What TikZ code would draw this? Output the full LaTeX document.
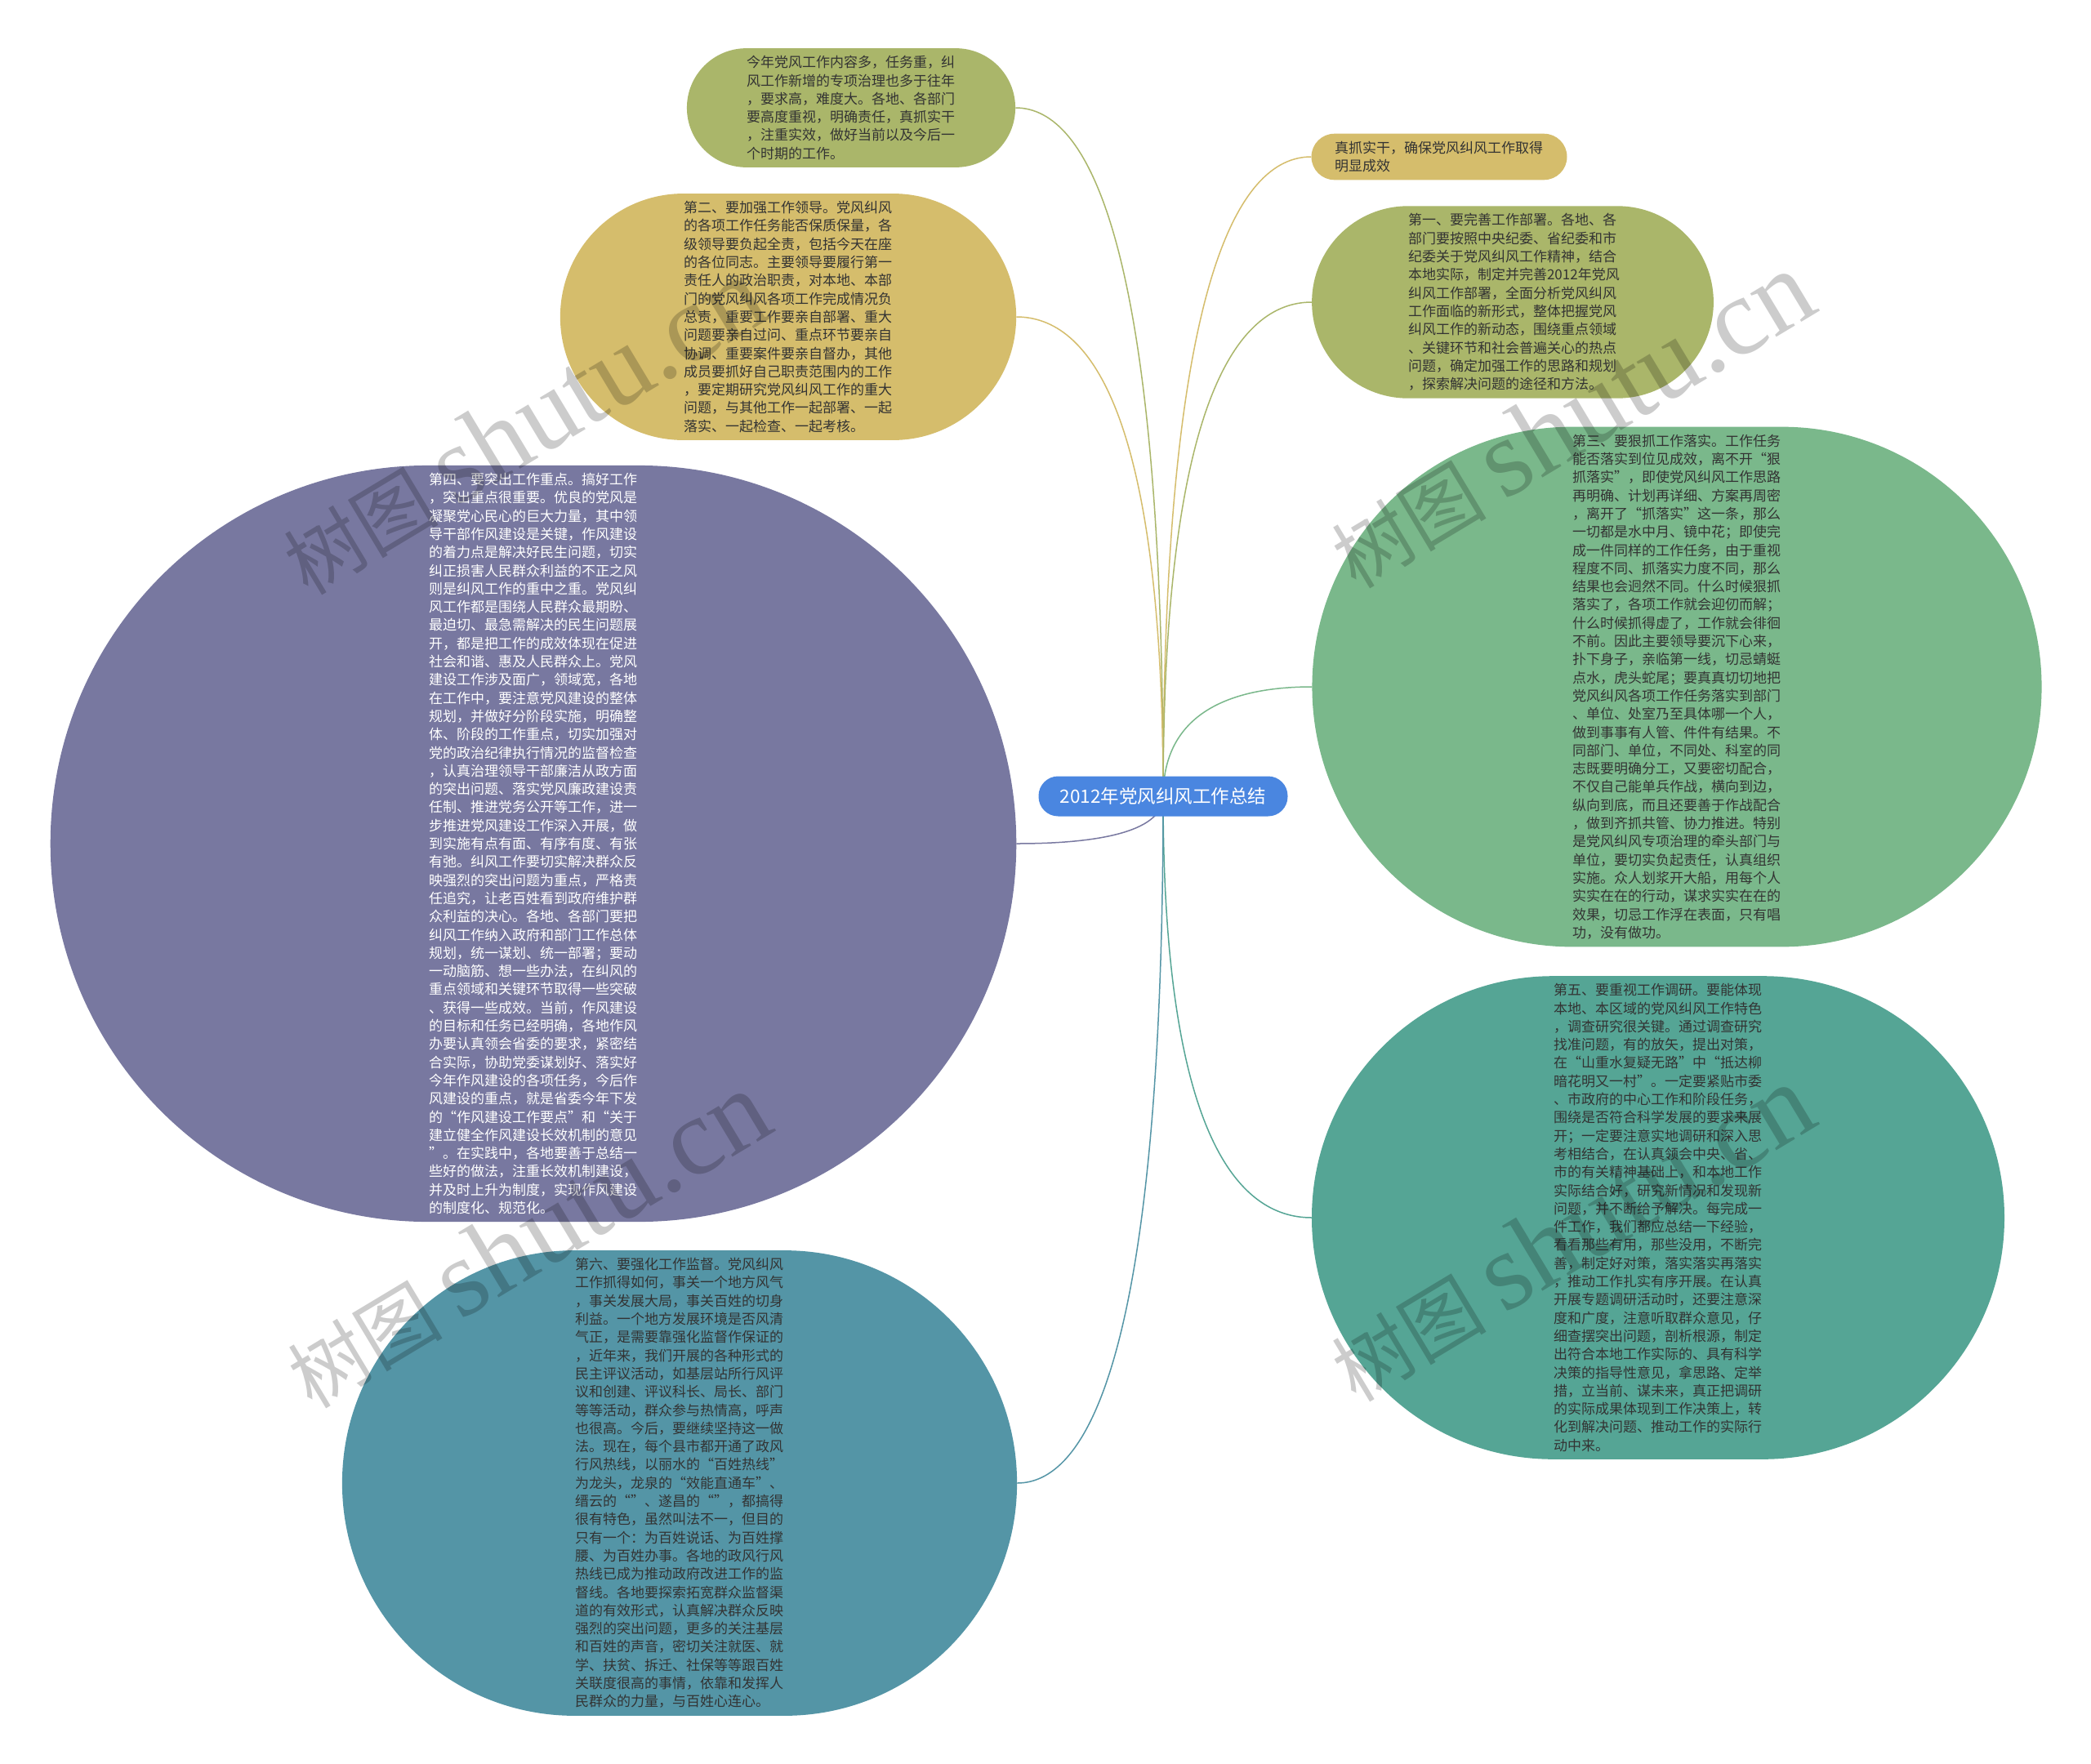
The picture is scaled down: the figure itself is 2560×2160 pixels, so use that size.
\documentclass[tikz,border=0pt]{standalone}
\usepackage{fontspec}
\setmainfont{Noto Sans CJK SC}
\newfontfamily\wmlatin{Liberation Serif}
\usetikzlibrary{shapes.misc,backgrounds,calc}
\definecolor{cOlive}{RGB}{170,182,106}
\definecolor{cYellow}{RGB}{213,189,108}
\definecolor{cGreen}{RGB}{122,184,139}
\definecolor{cPurple}{RGB}{120,120,160}
\definecolor{cTeal}{RGB}{85,165,149}
\definecolor{cBlueTeal}{RGB}{84,149,166}
\definecolor{cCenter}{RGB}{74,134,224}
\definecolor{txt}{RGB}{51,51,51}
\tikzset{
  box/.style={inner xsep=0pt, inner ysep=9pt, text width=256pt,
    align=left, font=\fontsize{17}{22.3}\selectfont, text=txt},
  conn/.style={line width=1.5pt},
  wm/.style={text=black, text opacity=0.2, font=\fontsize{95}{95}\selectfont, inner sep=0pt},
}
\newcommand\mkstadium[3]{%
  \path let \p1=(#1.north west), \p2=(#1.south east),
    \n1={\y1-\y2}, \n2={\x2-\x1+\y1-\y2}, \n3={0.4995*(\y1-\y2)} in
    node[fill=#3, rounded corners=\n3, minimum height=\n1, minimum width=\n2,
      inner sep=0pt] (#2) at (#1.center) {};}
\newcommand\mkconn[3]{%
  \draw[conn,#1] (#2.center) .. controls ($(#2.center)!0.8!(#2.center|-#3)$)
    and ($(#3)!0.5!(#2.center|-#3)$) .. (#3);}
\begin{document}
\begin{tikzpicture}[x=1pt,y=-1pt]
\useasboundingbox (0,0) rectangle (2560,2160);

\node[fill=cCenter, text=white, minimum height=49pt, minimum width=305pt, inner sep=0pt,
  rounded corners=24pt, font=\fontsize{22.5}{24}\selectfont] (c) at (1424,975) {2012年党风纠风工作总结};

\node[box] (t0) at (1042,132) {今年党风工作内容多，任务重，纠\\风工作新增的专项治理也多于往年\\，要求高，难度大。各地、各部门\\要高度重视，明确责任，真抓实干\\，注重实效，做好当前以及今后一\\个时期的工作。};

\node[box] (t2) at (965,388) {第二、要加强工作领导。党风纠风\\的各项工作任务能否保质保量，各\\级领导要负起全责，包括今天在座\\的各位同志。主要领导要履行第一\\责任人的政治职责，对本地、本部\\门的党风纠风各项工作完成情况负\\总责，重要工作要亲自部署、重大\\问题要亲自过问、重点环节要亲自\\协调、重要案件要亲自督办，其他\\成员要抓好自己职责范围内的工作\\，要定期研究党风纠风工作的重大\\问题，与其他工作一起部署、一起\\落实、一起检查、一起考核。};

\node[box] (tz) at (1762,192) {真抓实干，确保党风纠风工作取得\\明显成效};

\node[box] (t1) at (1852,370) {第一、要完善工作部署。各地、各\\部门要按照中央纪委、省纪委和市\\纪委关于党风纠风工作精神，结合\\本地实际，制定并完善2012年党风\\纠风工作部署，全面分析党风纠风\\工作面临的新形式，整体把握党风\\纠风工作的新动态，围绕重点领域\\、关键环节和社会普遍关心的热点\\问题，确定加强工作的思路和规划\\，探索解决问题的途径和方法。};

\node[box] (t3) at (2053,841) {第三、要狠抓工作落实。工作任务\\能否落实到位见成效，离不开“狠\\抓落实”，即使党风纠风工作思路\\再明确、计划再详细、方案再周密\\，离开了“抓落实”这一条，那么\\一切都是水中月、镜中花；即使完\\成一件同样的工作任务，由于重视\\程度不同、抓落实力度不同，那么\\结果也会迥然不同。什么时候狠抓\\落实了，各项工作就会迎仞而解；\\什么时候抓得虚了，工作就会徘徊\\不前。因此主要领导要沉下心来，\\扑下身子，亲临第一线，切忌蜻蜓\\点水，虎头蛇尾；要真真切切地把\\党风纠风各项工作任务落实到部门\\、单位、处室乃至具体哪一个人，\\做到事事有人管、件件有结果。不\\同部门、单位，不同处、科室的同\\志既要明确分工，又要密切配合，\\不仅自己能单兵作战，横向到边，\\纵向到底，而且还要善于作战配合\\，做到齐抓共管、协力推进。特别\\是党风纠风专项治理的牵头部门与\\单位，要切实负起责任，认真组织\\实施。众人划浆开大船，用每个人\\实实在在的行动，谋求实实在在的\\效果，切忌工作浮在表面，只有唱\\功，没有做功。};

\node[box, text=white] (t4) at (653,1033) {第四、要突出工作重点。搞好工作\\，突出重点很重要。优良的党风是\\凝聚党心民心的巨大力量，其中领\\导干部作风建设是关键，作风建设\\的着力点是解决好民生问题，切实\\纠正损害人民群众利益的不正之风\\则是纠风工作的重中之重。党风纠\\风工作都是围绕人民群众最期盼、\\最迫切、最急需解决的民生问题展\\开，都是把工作的成效体现在促进\\社会和谐、惠及人民群众上。党风\\建设工作涉及面广，领域宽，各地\\在工作中，要注意党风建设的整体\\规划，并做好分阶段实施，明确整\\体、阶段的工作重点，切实加强对\\党的政治纪律执行情况的监督检查\\，认真治理领导干部廉洁从政方面\\的突出问题、落实党风廉政建设责\\任制、推进党务公开等工作，进一\\步推进党风建设工作深入开展，做\\到实施有点有面、有序有度、有张\\有弛。纠风工作要切实解决群众反\\映强烈的突出问题为重点，严格责\\任追究，让老百姓看到政府维护群\\众利益的决心。各地、各部门要把\\纠风工作纳入政府和部门工作总体\\规划，统一谋划、统一部署；要动\\一动脑筋、想一些办法，在纠风的\\重点领域和关键环节取得一些突破\\、获得一些成效。当前，作风建设\\的目标和任务已经明确，各地作风\\办要认真领会省委的要求，紧密结\\合实际，协助党委谋划好、落实好\\今年作风建设的各项任务，今后作\\风建设的重点，就是省委今年下发\\的“作风建设工作要点”和“关于\\建立健全作风建设长效机制的意见\\”。在实践中，各地要善于总结一\\些好的做法，注重长效机制建设，\\并及时上升为制度，实现作风建设\\的制度化、规范化。};

\node[box] (t5) at (2030,1491) {第五、要重视工作调研。要能体现\\本地、本区域的党风纠风工作特色\\，调查研究很关键。通过调查研究\\找准问题，有的放矢，提出对策，\\在“山重水复疑无路”中“抵达柳\\暗花明又一村”。一定要紧贴市委\\、市政府的中心工作和阶段任务，\\围绕是否符合科学发展的要求来展\\开；一定要注意实地调研和深入思\\考相结合，在认真领会中央、省、\\市的有关精神基础上，和本地工作\\实际结合好，研究新情况和发现新\\问题，并不断给予解决。每完成一\\件工作，我们都应总结一下经验，\\看看那些有用，那些没用，不断完\\善，制定好对策，落实落实再落实\\，推动工作扎实有序开展。在认真\\开展专题调研活动时，还要注意深\\度和广度，注意听取群众意见，仔\\细查摆突出问题，剖析根源，制定\\出符合本地工作实际的、具有科学\\决策的指导性意见，拿思路、定举\\措，立当前、谋未来，真正把调研\\的实际成果体现到工作决策上，转\\化到解决问题、推动工作的实际行\\动中来。};

\node[box] (t6) at (832,1816) {第六、要强化工作监督。党风纠风\\工作抓得如何，事关一个地方风气\\，事关发展大局，事关百姓的切身\\利益。一个地方发展环境是否风清\\气正，是需要靠强化监督作保证的\\，近年来，我们开展的各种形式的\\民主评议活动，如基层站所行风评\\议和创建、评议科长、局长、部门\\等等活动，群众参与热情高，呼声\\也很高。今后，要继续坚持这一做\\法。现在，每个县市都开通了政风\\行风热线，以丽水的“百姓热线”\\为龙头，龙泉的“效能直通车”、\\缙云的“”、遂昌的“”，都搞得\\很有特色，虽然叫法不一，但目的\\只有一个：为百姓说话、为百姓撑\\腰、为百姓办事。各地的政风行风\\热线已成为推动政府改进工作的监\\督线。各地要探索拓宽群众监督渠\\道的有效形式，认真解决群众反映\\强烈的突出问题，更多的关注基层\\和百姓的声音，密切关注就医、就\\学、扶贫、拆迁、社保等等跟百姓\\关联度很高的事情，依靠和发挥人\\民群众的力量，与百姓心连心。};

\begin{scope}[on background layer]
\fill[white] (0,0) rectangle (2560,2160);
\mkstadium{t0}{s0}{cOlive}
\mkstadium{t2}{s2}{cYellow}
\mkstadium{tz}{sz}{cYellow}
\mkstadium{t1}{s1}{cOlive}
\mkstadium{t3}{s3}{cGreen}
\mkstadium{t4}{s4}{cPurple}
\mkstadium{t5}{s5}{cTeal}
\mkstadium{t6}{s6}{cBlueTeal}
\mkconn{cOlive}{c}{s0.east}
\mkconn{cYellow}{c}{s2.east}
\mkconn{cYellow}{c}{sz.west}
\mkconn{cOlive}{c}{s1.west}
\mkconn{cGreen}{c}{s3.west}
\mkconn{cPurple}{c}{s4.east}
\mkconn{cTeal}{c}{s5.west}
\mkconn{cBlueTeal}{c}{s6.east}
\end{scope}

\node[wm, rotate=31] (w1) at (640,522) {树图 {\wmlatin\fontsize{135}{135}\selectfont shutu.cn}};
\node[wm, rotate=31] (w2) at (1923,514) {树图 {\wmlatin\fontsize{135}{135}\selectfont shutu.cn}};
\node[wm, rotate=31] (w3) at (645,1518) {树图 {\wmlatin\fontsize{135}{135}\selectfont shutu.cn}};
\node[wm, rotate=31] (w4) at (1923,1510) {树图 {\wmlatin\fontsize{135}{135}\selectfont shutu.cn}};
\end{tikzpicture}
\end{document}
